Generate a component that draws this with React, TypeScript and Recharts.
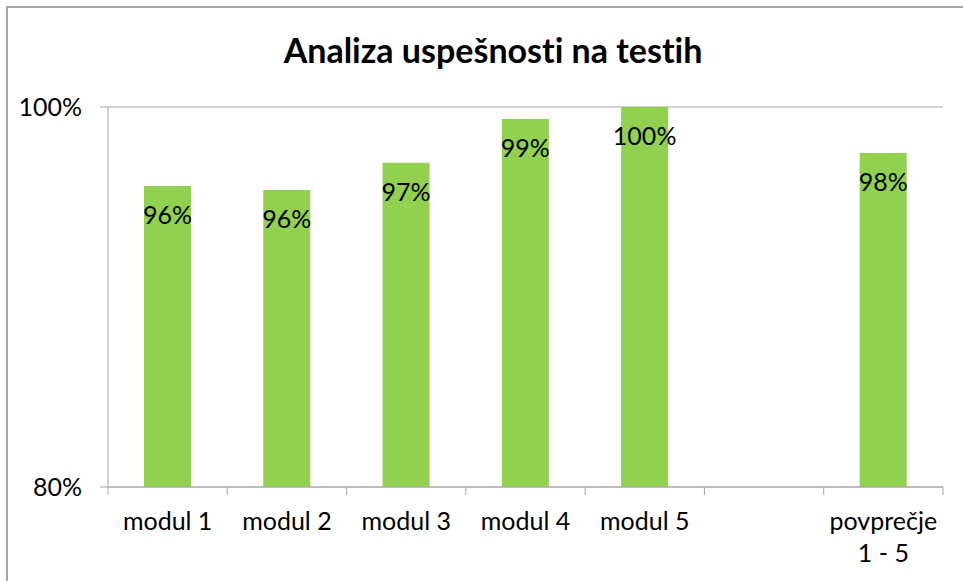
import React from "react";
import { BarChart, Bar, XAxis, YAxis, CartesianGrid, LabelList } from "recharts";

const categories = ["modul 1", "modul 2", "modul 3", "modul 4", "modul 5", "", "povprečje\n1 - 5"];
const scores: (number | null)[] = [95.84, 95.63, 97.07, 99.37, 100, null, 97.58];
const yTicks = [80, 100];

const TITLE = "Analiza uspešnosti na testih";
const FONT = "Lato, 'Open Sans', sans-serif";
const GREY = "#a6a6a6";
const GREEN = "#92d050";

const data = categories.map((name, i) => ({ name, value: scores[i] }));

const CategoryTick = (props: any) => {
  const { x, y, payload, index } = props;
  const half = payload && payload.offset ? payload.offset : 59.6;
  const lines = String(payload.value).split("\n");
  return (
    <g>
      <line x1={x - half} y1={y} x2={x - half} y2={y + 8} stroke={GREY} />
      {index === categories.length - 1 && (
        <line x1={x + half} y1={y} x2={x + half} y2={y + 8} stroke={GREY} />
      )}
      {lines.map((l, i) => (
        <text
          key={i}
          x={x}
          y={y + 43 + i * 32}
          textAnchor="middle"
          fill="#000"
          fontSize={25}
          fontFamily={FONT}
        >
          {l}
        </text>
      ))}
    </g>
  );
};

const ValueLabel = (props: any) => {
  const { x, y, width, value } = props;
  if (value == null) return null;
  return (
    <text
      x={x + width / 2}
      y={y + 38}
      textAnchor="middle"
      fill="#000"
      fontSize={25}
      fontFamily={FONT}
    >
      {Math.round(value)}%
    </text>
  );
};

export default function App() {
  return (
    <div style={{ position: "absolute", left: 0, top: 0, width: 963, height: 581, overflow: "hidden", background: "#fff" }}>
      <div
        style={{
          position: "absolute",
          left: 6,
          top: 6,
          width: 1000,
          height: 1000,
          borderLeft: `2px solid ${GREY}`,
          borderTop: `2px solid ${GREY}`,
        }}
      />
      <svg width={963} height={90} style={{ position: "absolute", left: 0, top: 0 }}>
        <text
          x={493}
          y={63}
          textAnchor="middle"
          fontSize={34}
          fontWeight="bold"
          fontFamily={FONT}
          fill="#000"
          style={{ fontVariantLigatures: "none" }}
        >
          {TITLE}
        </text>
      </svg>
      <div style={{ position: "absolute", left: 0, top: 0 }}>
        <BarChart
          width={963}
          height={581}
          data={data}
          margin={{ top: 107, right: 20, bottom: 0, left: 0 }}
          barSize={47}
        >
          <CartesianGrid vertical={false} stroke={GREY} />
          <YAxis
            type="number"
            domain={[80, 100]}
            ticks={yTicks}
            width={108}
            tickSize={8}
            tickMargin={18}
            axisLine={{ stroke: GREY }}
            tickLine={{ stroke: GREY }}
            tickFormatter={(v: number) => `${v}%`}
            tick={{ fill: "#000", fontSize: 25, fontFamily: FONT }}
          />
          <XAxis
            dataKey="name"
            interval={0}
            height={94}
            tickSize={0}
            tickMargin={0}
            tickLine={false}
            axisLine={{ stroke: GREY }}
            tick={<CategoryTick />}
          />
          <Bar dataKey="value" fill={GREEN} isAnimationActive={false}>
            <LabelList dataKey="value" content={<ValueLabel />} />
          </Bar>
        </BarChart>
      </div>
    </div>
  );
}
